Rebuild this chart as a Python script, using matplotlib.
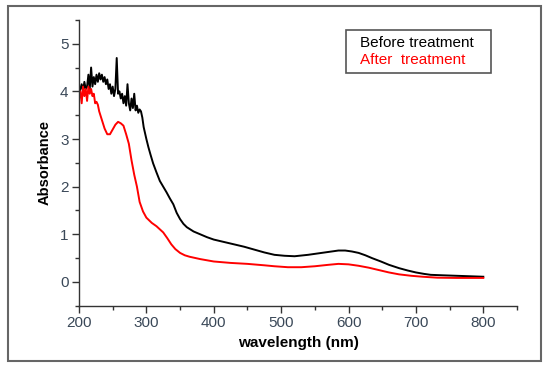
import matplotlib.pyplot as plt
from matplotlib.patches import Rectangle
from matplotlib.ticker import MultipleLocator

plt.rcParams["font.family"] = ["Liberation Sans", "DejaVu Sans"]

# Before treatment (black)
before_wl = [200, 202, 204, 206, 208, 210, 212, 214, 216, 218, 220, 222, 224, 226,
             228, 230, 232, 234, 236, 238, 240, 242, 244, 246, 248, 250, 252, 254,
             256, 258, 260, 262, 264, 266, 268, 270, 272, 274, 276, 278, 280, 282,
             284, 286, 288, 290, 292, 294, 296,
             300, 303, 306, 310, 315, 320, 325, 330, 335, 340, 345, 350, 355, 360,
             370, 380, 390, 400, 415, 430, 445, 460, 475, 490, 505, 520, 540, 555,
             570, 585, 595, 605, 615, 625, 635, 648, 660, 675, 688, 700, 712, 722,
             740, 760, 780, 800]
before_abs = [3.95, 4.05, 4.15, 4.0, 4.2, 4.05, 4.1, 4.35, 4.05, 4.5, 4.1, 4.3, 4.15, 4.35,
              4.2, 4.38, 4.25, 4.35, 4.2, 4.3, 4.15, 4.25, 4.05, 4.15, 3.95, 4.1, 3.9, 4.05,
              4.7, 3.95, 4.0, 3.85, 3.95, 3.75, 3.9, 3.7, 4.15, 3.75, 3.6, 3.85, 3.65, 3.95,
              3.6, 3.7, 3.55, 3.62, 3.58, 3.45, 3.25,
              3.0, 2.83, 2.68, 2.49, 2.3, 2.12, 2.0, 1.88, 1.75, 1.63, 1.45, 1.32, 1.22, 1.15,
              1.06, 1.0, 0.94, 0.89, 0.84, 0.79, 0.74, 0.68, 0.62, 0.57, 0.55, 0.54, 0.57, 0.6,
              0.63, 0.66, 0.66, 0.64, 0.61, 0.56, 0.5, 0.43, 0.36, 0.29, 0.24, 0.2, 0.17, 0.15,
              0.14, 0.13, 0.12, 0.11]

# After treatment (red)
after_wl = [200, 202, 204, 206, 208, 210, 212, 214, 216, 218, 220, 222, 224, 226,
            228, 230, 234, 238, 242, 246, 250, 254, 258, 262, 266, 270, 274, 278,
            282, 286, 290, 295, 300, 308, 315, 325, 331, 337, 343, 350, 357, 364,
            380, 400, 425, 450, 475, 490, 510, 530, 550, 570, 585, 600, 615, 630,
            645, 660, 675, 693, 710, 732, 760, 800]
after_abs = [3.85, 4.0, 3.75, 4.1, 3.9, 4.05, 3.8, 4.1, 3.95, 4.05, 3.9, 3.95, 3.75, 3.78,
             3.72, 3.58, 3.4, 3.22, 3.1, 3.1, 3.2, 3.3, 3.36, 3.33, 3.28, 3.1, 2.9, 2.55,
             2.25, 2.0, 1.68, 1.48, 1.35, 1.24, 1.17, 1.04, 0.92, 0.79, 0.69, 0.61, 0.56, 0.53,
             0.48, 0.43, 0.4, 0.38, 0.35, 0.33, 0.31, 0.31, 0.33, 0.36, 0.38, 0.37, 0.34, 0.3,
             0.25, 0.2, 0.16, 0.13, 0.11, 0.09, 0.085, 0.085]

labels = ["Before treatment", "After  treatment"]
tick_color = "#3a4858"

fig = plt.figure(figsize=(5.5, 3.68), dpi=100)
ax = fig.add_axes([0.1436, 0.169, 0.7964, 0.777])

ax.plot(before_wl, before_abs, color="black", lw=1.4)
ax.plot(after_wl, after_abs, color="red", lw=1.4)

ax.set_xlim(200, 850)
ax.set_ylim(-0.5, 5.5)
ax.xaxis.set_minor_locator(MultipleLocator(50))
ax.yaxis.set_major_locator(MultipleLocator(1))
ax.yaxis.set_minor_locator(MultipleLocator(0.5))
ax.set_xticks(range(200, 900, 100))
ax.set_xticklabels(["200", "300", "400", "500", "600", "700", "800"])
ax.tick_params(which="major", direction="out", length=5, width=1, labelsize=11,
               labelcolor=tick_color, color="#333333", pad=2.5)
ax.tick_params(which="minor", direction="out", length=3, width=1, color="#333333")

for side in ["top", "right"]:
    ax.spines[side].set_visible(False)
for side in ["left", "bottom"]:
    ax.spines[side].set_linewidth(1.0)
    ax.spines[side].set_color("#333333")

ax.set_xlabel("wavelength (nm)", fontsize=11, fontweight="bold", labelpad=4)
ax.set_ylabel("Absorbance", fontsize=10.5, fontweight="bold", labelpad=6)

# legend-like box with coloured text only
fig.patches.append(Rectangle((346 / 550, 1 - 73 / 368), 145 / 550, 43 / 368,
                             transform=fig.transFigure, fill=False,
                             edgecolor="#555555", lw=1.2))
fig.text(360 / 550, 1 - 43 / 368, labels[0], color="black", fontsize=11, va="center")
fig.text(360 / 550, 1 - 60 / 368, labels[1], color="red", fontsize=11, va="center")

# outer frame
fig.patches.append(Rectangle((8 / 550, 7 / 368), 533 / 550, 355 / 368,
                             transform=fig.transFigure, fill=False,
                             edgecolor="#666666", lw=1.5))

fig.savefig("out.png", dpi=100)
